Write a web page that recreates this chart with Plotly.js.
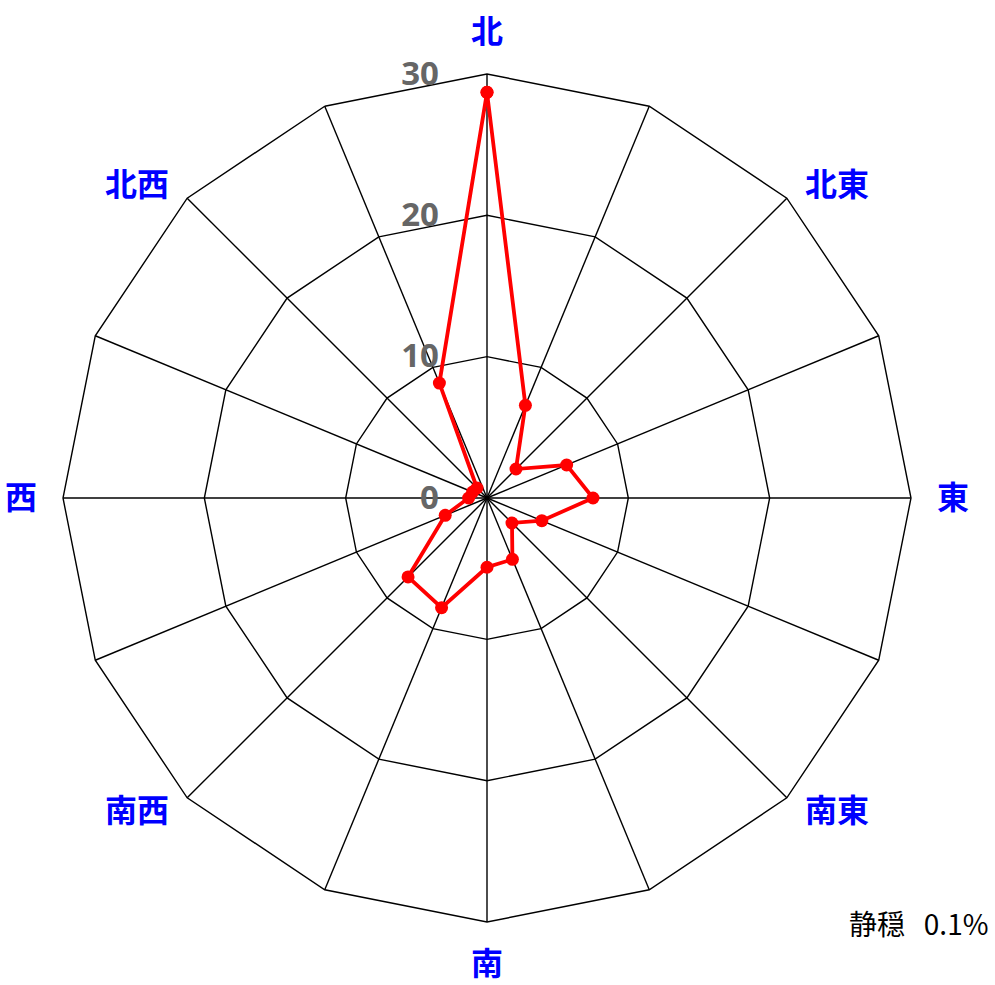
<!DOCTYPE html>
<html><head><meta charset="utf-8">
<script src="https://cdn.plot.ly/plotly-3.0.1.min.js"></script>
<style>body{margin:0;background:#fff}#c{width:995px;height:985px}</style>
</head><body><div id="c"></div>
<script>
var directions = ['北','北北東','北東','東北東','東','東南東','南東','南南東','南','南南西','南西','西南西','西','西北西','北西','北北西'];
var frequency = [28.7, 7.1, 2.9, 6.1, 7.5, 4.2, 2.5, 4.7, 4.9, 8.4, 7.9, 3.2, 1.3, 1.1, 1.0, 8.8];
var shownLabels = ['北','北東','東','南東','南','南西','西','北西'];
var radialTicks = [0, 10, 20, 30];
var calmText = '静穏\u00a0\u00a0 0.1%';

var W = 995, H = 985;
var cx = 487, cy = 498, R = 424, labelR = 466;

var trace = {
  type: 'scatterpolar',
  mode: 'lines+markers',
  r: frequency.concat([frequency[0]]),
  theta: directions.concat([directions[0]]),
  line: {color: '#FF0000', width: 3.8},
  marker: {color: '#FF0000', size: 13},
  hoverinfo: 'none',
  showlegend: false
};

// direction labels placed around the polygon
var step = 360 / directions.length;
var annotations = [];
directions.forEach(function(d, i){
  if (shownLabels.indexOf(d) < 0) return;
  var a = i * step * Math.PI / 180;
  var s = Math.sin(a), c = Math.cos(a), diag = Math.abs(Math.sin(2 * a));
  var ox = labelR * s + 20 * Math.sign(Math.round(s * 1000)) * diag;
  var oy = labelR * c - 17 * Math.sign(Math.round(c * 1000)) * diag;
  annotations.push({
    text: d, xref: 'paper', yref: 'paper',
    x: (cx + ox) / W,
    y: 1 - (cy - oy) / H,
    xanchor: 'center', yanchor: 'middle', showarrow: false, yshift: 3,
    font: {size: 32, color: '#0000FF', family: '"Noto Sans CJK JP", sans-serif', weight: 'bold'}
  });
});
annotations.push({
  text: calmText, xref: 'paper', yref: 'paper',
  x: 990/W, y: 1 - 925/H, xanchor: 'right', yanchor: 'middle',
  showarrow: false, yshift: 2,
  font: {size: 28, color: '#000', family: '"Noto Sans CJK JP", sans-serif'}
});

var layout = {
  width: W, height: H,
  margin: {l: 0, r: 0, t: 0, b: 0},
  paper_bgcolor: '#fff',
  font: {family: '"Noto Sans CJK JP", "Noto Sans", sans-serif'},
  polar: {
    domain: {x: [(cx - R)/W, (cx + R)/W], y: [1 - (cy + R)/H, 1 - (cy - R)/H]},
    bgcolor: '#fff',
    gridshape: 'linear',
    angularaxis: {
      type: 'category',
      categoryorder: 'array',
      categoryarray: directions,
      rotation: 90,
      direction: 'clockwise',
      showticklabels: false,
      ticks: '',
      showgrid: true,
      gridcolor: '#000',
      gridwidth: 1.4,
      showline: true,
      linecolor: '#000',
      linewidth: 1.4
    },
    radialaxis: {
      range: [0, 30],
      tickmode: 'array',
      tickvals: radialTicks,
      ticktext: radialTicks.map(String),
      angle: 90,
      side: 'counterclockwise',
      showline: false,
      showgrid: true,
      gridcolor: '#000',
      gridwidth: 1.4,
      ticks: 'outside',
      ticklen: 36,
      tickcolor: 'rgba(0,0,0,0)',
      tickangle: 90,
      tickfont: {size: 33, color: '#666666', family: '"Noto Sans", "Open Sans", sans-serif', weight: 'bold'}
    }
  },
  annotations: annotations
};

Plotly.newPlot('c', [trace], layout, {displayModeBar: false, staticPlot: true});
</script>
</body></html>
